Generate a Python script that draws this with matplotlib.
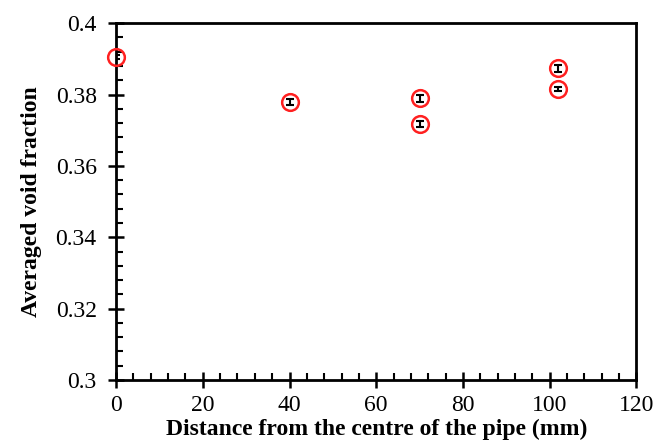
import matplotlib
matplotlib.use('Agg')
import matplotlib.pyplot as plt
from matplotlib.ticker import MultipleLocator

# Data
distance = [0, 40, 70, 70, 102, 102]
void_fraction = [0.3905, 0.3779, 0.3789, 0.3717, 0.3873, 0.3815]
void_err = [0.0005, 0.0008, 0.0009, 0.0009, 0.0009, 0.0005]

plt.rcParams['font.family'] = ['Liberation Serif', 'DejaVu Serif']

fig = plt.figure(figsize=(6.56, 4.45), dpi=100)
ax = fig.add_axes([0.177, 0.146, 0.793, 0.802])

ax.errorbar(distance, void_fraction, yerr=void_err, fmt='none',
            ecolor='black', elinewidth=1.5, capsize=3, capthick=1.5, zorder=3)
ax.plot(distance, void_fraction, 'o', mfc='none', mec='#ff2020',
        markersize=12, markeredgewidth=1.8, zorder=4, clip_on=False)

ax.set_xlim(0, 120)
ax.set_ylim(0.3, 0.4)
ax.xaxis.set_major_locator(MultipleLocator(20))
ax.xaxis.set_minor_locator(MultipleLocator(4))
ax.yaxis.set_minor_locator(MultipleLocator(0.004))
ax.set_yticks([0.3, 0.32, 0.34, 0.36, 0.38, 0.4])
ax.set_yticklabels(['0.3', '0.32', '0.34', '0.36', '0.38', '0.4'])

ax.tick_params(which='major', direction='inout', length=12, width=1.8,
               labelsize=17, top=False, right=False)
ax.tick_params(axis='x', which='major', pad=5)
ax.tick_params(axis='y', which='major', pad=8)
ax.tick_params(which='minor', direction='in', length=5, width=1.5,
               top=False, right=False)
for sp in ax.spines.values():
    sp.set_linewidth(2)

ax.set_xlabel('Distance from the centre of the pipe (mm)', fontsize=17,
              fontweight='bold', labelpad=2)
ax.set_ylabel('Averaged void fraction', fontsize=17, fontweight='bold',
              labelpad=10)

plt.savefig('out.png', dpi=100)
plt.close()
